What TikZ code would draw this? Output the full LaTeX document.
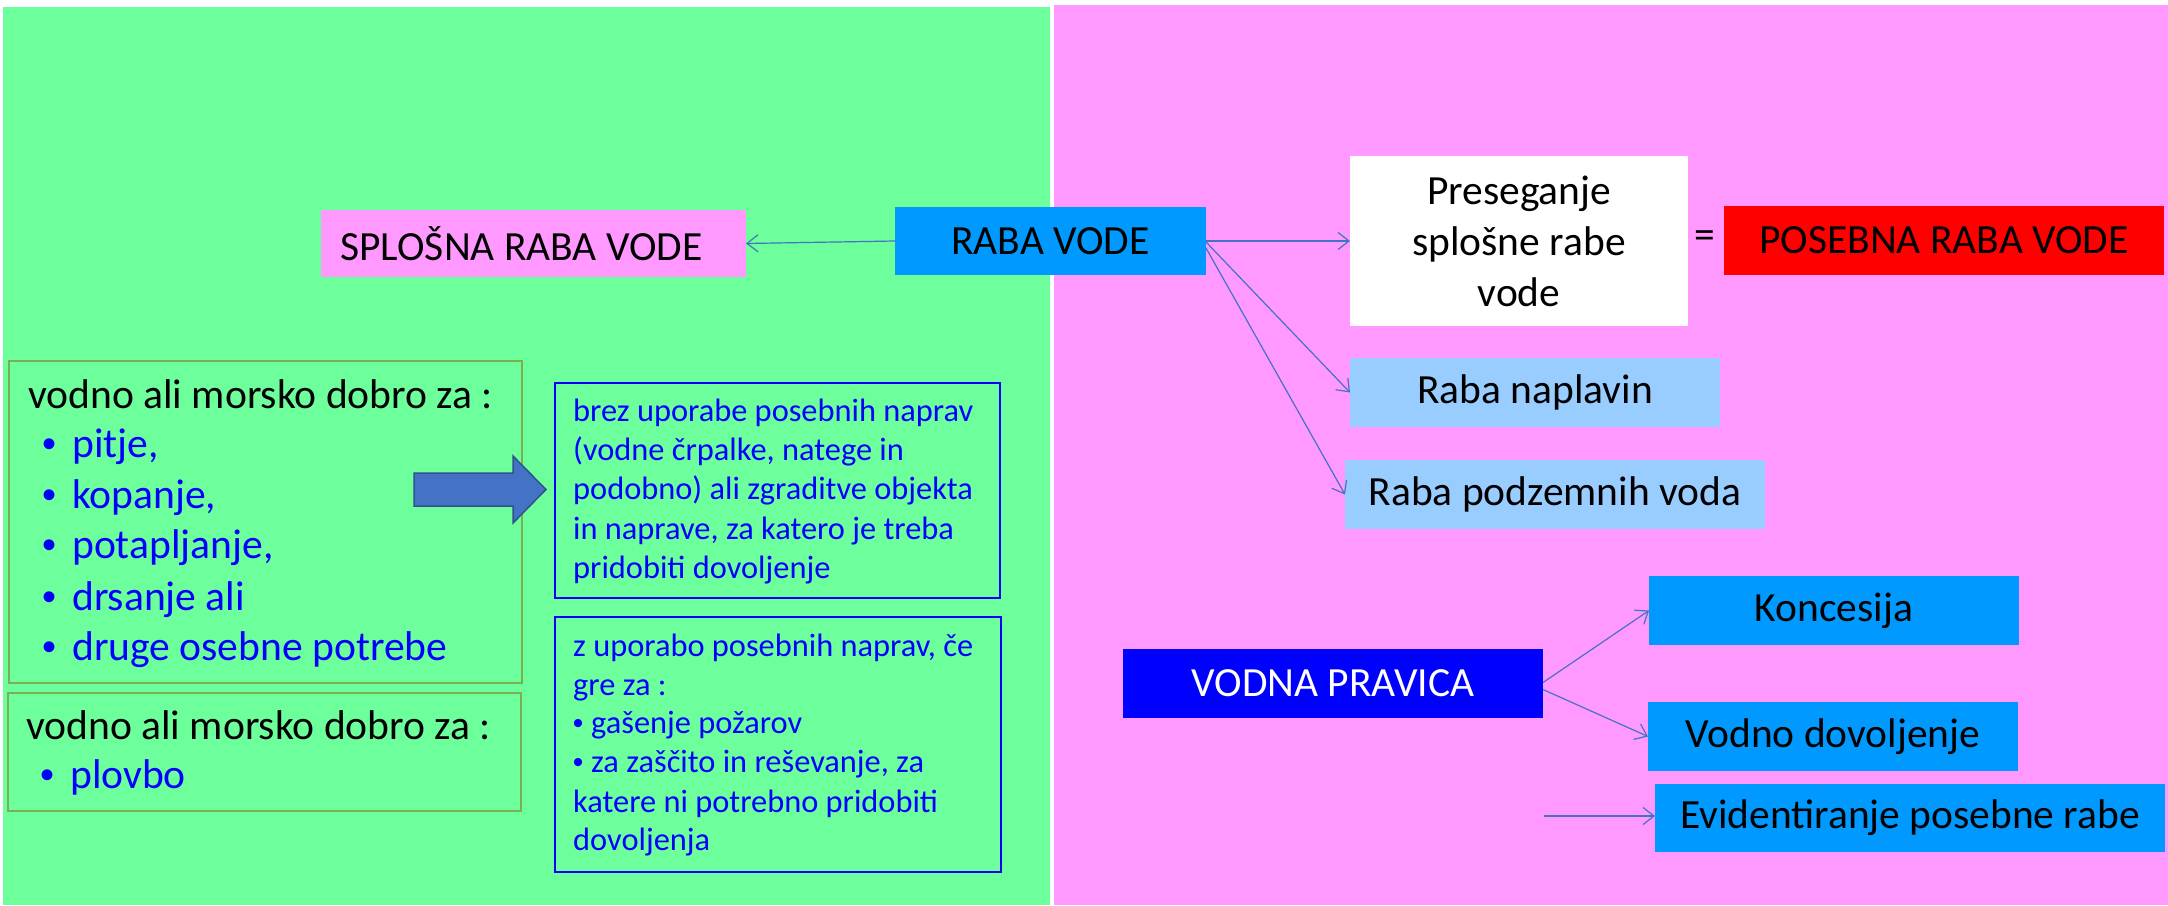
\documentclass[tikz,border=0pt]{standalone}
\usepackage{fontspec}
\setmainfont{Carlito}
\newfontfamily\bulletfont{Liberation Sans}
\usetikzlibrary{arrows.meta}
\definecolor{bggreen}{RGB}{108,255,155}
\definecolor{bgpink}{RGB}{255,153,255}
\definecolor{midblue}{RGB}{0,153,255}
\definecolor{lightblue}{RGB}{153,204,255}
\definecolor{conblue}{RGB}{68,114,196}
\definecolor{conborder}{RGB}{47,82,143}
\definecolor{olivebox}{RGB}{125,175,80}
\definecolor{pureblue}{RGB}{0,0,255}
\begin{document}
\begin{tikzpicture}[x=1pt,y=-1pt,
  lbl/.style={rectangle, inner sep=0pt, outer sep=0pt, font=\fontsize{41.5}{51}\selectfont, align=center},
  conn/.style={draw=conblue, line width=1.2pt, -{Straight Barb[length=11pt,width=17pt]}},
  greenbox/.style={draw=olivebox, line width=1.6pt, inner sep=0pt, outer sep=0pt},
  bluebox/.style={draw=pureblue, line width=2pt, inner sep=0pt, outer sep=0pt},
  ltxt/.style={anchor=base west, inner sep=0pt, font=\fontsize{41.6}{50}\selectfont},
  lbul/.style={anchor=base, inner sep=0pt, text=pureblue, font=\bulletfont\fontsize{40}{48}\selectfont},
  btxt/.style={anchor=base west, inner sep=0pt, font=\fontsize{32.4}{39}\selectfont, text=pureblue},
  bbul/.style={anchor=base, inner sep=0pt, text=pureblue, font=\bulletfont\fontsize{30}{39}\selectfont}]
% background and panels
\fill[white] (0,0) rectangle (2168,905);
\useasboundingbox (0,0) rectangle (2168,905);
\fill[bggreen] (3,7) rectangle (1050,905);
\fill[bgpink] (1054,5) rectangle (2168,905);

% top row
\node[lbl, fill=bgpink, minimum width=425pt, minimum height=67pt] (splosna) at (533.5,243.5) {SPLOŠNA RABA VODE\hspace*{24pt}};
\node[lbl, fill=midblue, minimum width=311pt, minimum height=68pt] (raba) at (1050.5,241) {RABA VODE};
\node[lbl, fill=white, minimum width=338pt, minimum height=170pt] (preseg) at (1519,241) {Preseganje\\splošne rabe\\vode};
\node[lbl] (eq) at (1705,240) {=};
\node[lbl, fill=red, minimum width=440pt, minimum height=69pt] (posebna) at (1944,240.5) {POSEBNA RABA VODE};
\node[lbl, fill=lightblue, minimum width=370pt, minimum height=69pt] (naplavin) at (1535,392.5) {Raba naplavin};
\node[lbl, fill=lightblue, minimum width=420pt, minimum height=69pt] (podzemnih) at (1555,494.5) {Raba podzemnih voda};

% vodna pravica
\node[lbl, fill=pureblue, text=white, minimum width=420pt, minimum height=69pt] (vodna) at (1333,683.5) {VODNA PRAVICA};
\node[lbl, fill=midblue, minimum width=370pt, minimum height=69pt] (koncesija) at (1834,610.5) {Koncesija};
\node[lbl, fill=midblue, minimum width=370pt, minimum height=69pt] (dovoljenje) at (1833,736.5) {Vodno dovoljenje};
\node[lbl, fill=midblue, minimum width=510pt, minimum height=68pt] (evident) at (1910,818) {Evidentiranje posebne rabe};
\coordinate (evfree) at (1544,816);

% connectors
\draw[conn] (raba.west) -- (splosna.east);
\draw[conn] (raba.east) -- (preseg.west);
\draw[conn] ([yshift=-1pt]raba.east) -- (naplavin.west);
\draw[conn] ([yshift=-7pt]raba.east) -- (podzemnih.west);
\draw[conn] ([yshift=1pt]vodna.east) -- (koncesija.west);
\draw[conn] ([yshift=-6pt]vodna.east) -- (dovoljenje.west);
\draw[conn] (evfree) -- (evfree -| evident.west);

% left boxes
\node[greenbox, minimum width=513pt, minimum height=322pt] (lbox1) at (265.5,522) {};
\node[greenbox, minimum width=513pt, minimum height=118pt] (lbox2) at (264.5,752) {};
\node[ltxt] (l1h) at (28,408) {vodno ali morsko dobro za :};
\foreach \t/\yy [count=\i] in {pitje{,}/457, kopanje{,}/508, potapljanje{,}/558, drsanje ali/610, druge osebne potrebe/660}{
  \node[lbul] (l1b\i) at (50,\yy) {•};
  \node[ltxt, text=pureblue] (l1t\i) at (72,\yy) {\t};
}
\node[ltxt] (l2h) at (26,739) {vodno ali morsko dobro za :};
\node[lbul] (l2b) at (48,788) {•};
\node[ltxt, text=pureblue] (l2t) at (70,788) {plovbo};

% block arrow
\draw[fill=conblue, draw=conborder, line width=1.5pt] (414,473) -- (513,473) -- (513,456) -- (546,489.5) -- (513,523) -- (513,506) -- (414,506) -- cycle;

% blue boxes
\node[bluebox, minimum width=445pt, minimum height=215pt] (bbox1) at (777.5,490.5) {};
\node[bluebox, minimum width=446pt, minimum height=255pt] (bbox2) at (778,744.5) {};
\node[btxt] (b1l1) at (573,421) {brez uporabe posebnih naprav};
\node[btxt] (b1l2) at (573,460) {(vodne črpalke, natege in};
\node[btxt] (b1l3) at (573,499) {podobno) ali zgraditve objekta};
\node[btxt] (b1l4) at (573,539) {in naprave, za katero je treba};
\node[btxt] (b1l5) at (573,578) {pridobiti dovoljenje};
\node[btxt] (b2l1) at (573,656) {z uporabo posebnih naprav, če};
\node[btxt] (b2l2) at (573,695) {gre za :};
\node[bbul] (b2b3) at (578,733) {•};
\node[btxt] (b2l3) at (591,733) {gašenje požarov};
\node[bbul] (b2b4) at (578,772) {•};
\node[btxt] (b2l4) at (591,772) {za zaščito in reševanje, za};
\node[btxt] (b2l5) at (573,812) {katere ni potrebno pridobiti};
\node[btxt] (b2l6) at (573,850) {dovoljenja};
\end{tikzpicture}
\end{document}
